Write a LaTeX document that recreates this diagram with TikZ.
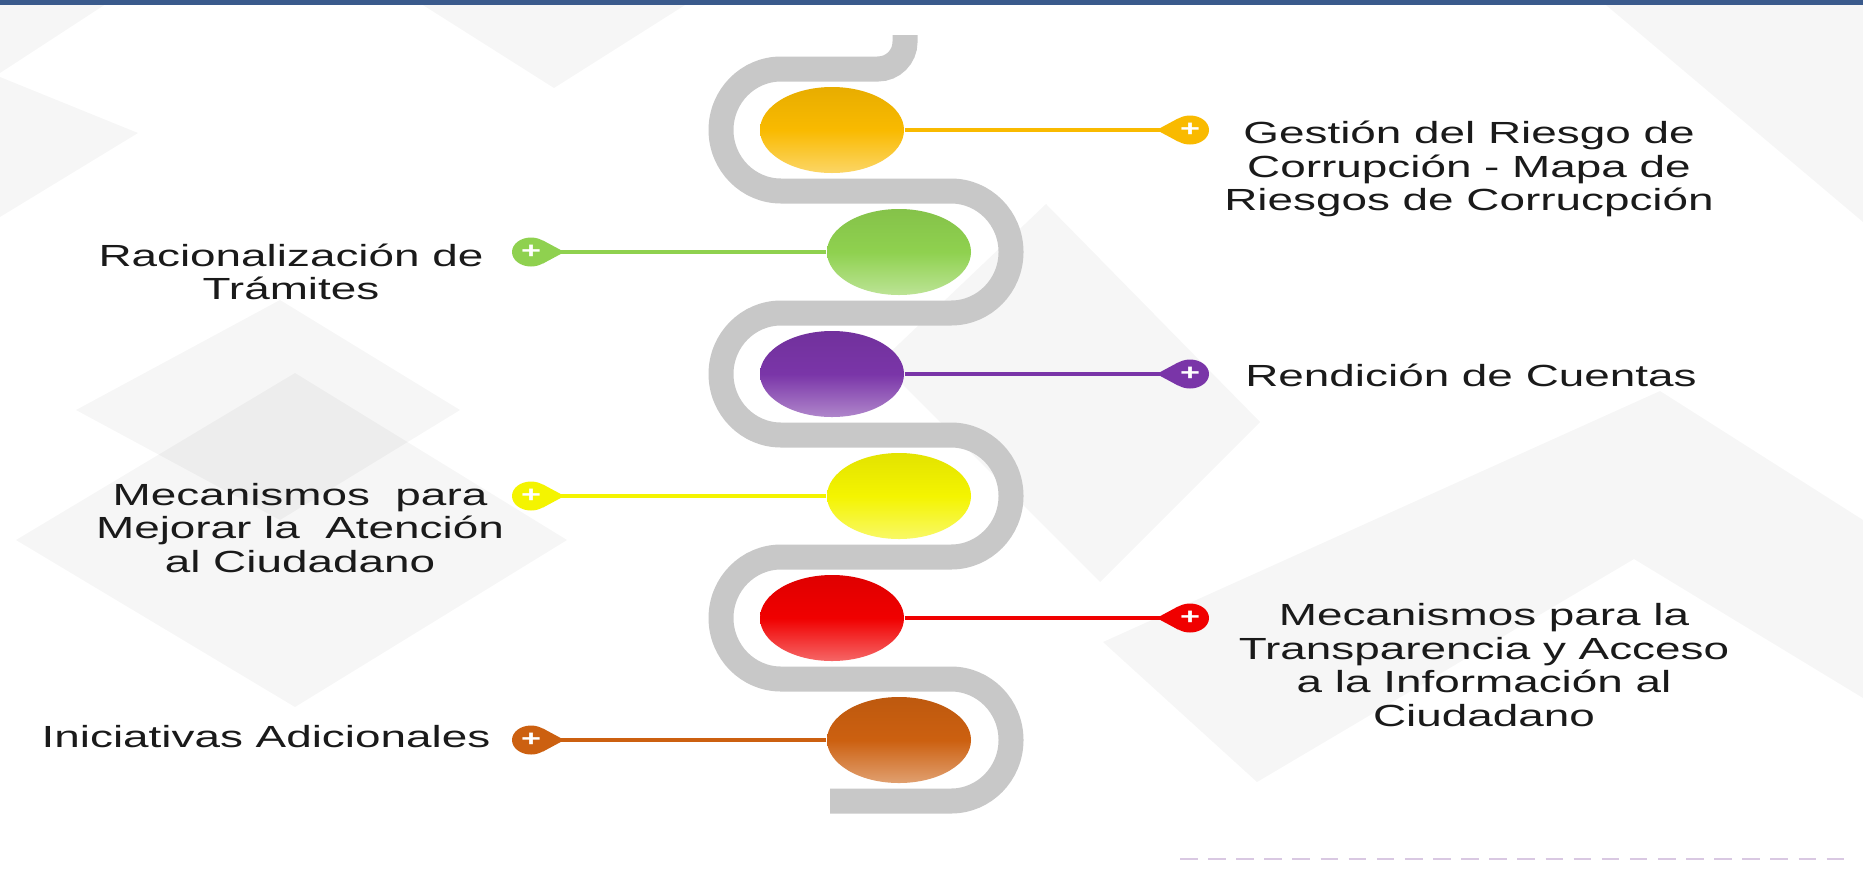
\documentclass[tikz,border=0pt]{standalone}
\usepackage{fontspec}
\setmainfont{Liberation Sans}[FakeStretch=1.5]
\usetikzlibrary{shapes.geometric,arrows.meta}

\definecolor{cgold}{HTML}{F9BA00}
\definecolor{cgreen}{HTML}{8FD14F}
\definecolor{cpurple}{HTML}{7A35A8}
\definecolor{cyellow}{HTML}{F4F400}
\definecolor{cred}{HTML}{F00000}
\definecolor{cbrown}{HTML}{CC6010}
\definecolor{bandgray}{RGB}{200,200,200}
\definecolor{topblue}{HTML}{3A5A8C}
\definecolor{txtgray}{HTML}{1A1A1A}
\definecolor{noise}{HTML}{D9C8E2}

\tikzset{
    bgshape/.style={fill=black, fill opacity=0.035},
    band/.style={draw=bandgray, line width=0.25cm},
    sphere/.style={ellipse, minimum width=1.44cm, minimum height=0.86cm, inner sep=0pt,
        top color=#1!93!black, bottom color=#1!60!white, middle color=#1},
    tipdot/.style={ellipse, minimum width=0.38cm, minimum height=0.29cm, inner sep=0pt,
        fill=#1, text=white, font=\bfseries\fontsize{6.5}{6.5}\selectfont},
    link/.style={draw=#1, line width=1.3pt, -{Triangle[reversed, width=0.22cm, length=0.22cm]},
        shorten >=-0.08cm},
    lbl/.style={align=center, text=txtgray, inner sep=0pt, font=\fontsize{8.7}{9.6}\selectfont}
}

\begin{document}
\begin{tikzpicture}
    \useasboundingbox (0,0) rectangle (18.63,8.82);
    \fill[white] (0,0) rectangle (18.63,8.82);
    \fill[bgshape] (0,8.82) -- (1.12,8.82) -- (0,8.09) -- cycle;
    \fill[bgshape] (0,8.05) -- (1.38,7.49) -- (0,6.65) -- cycle;
    \fill[bgshape] (4.15,8.82) -- (6.93,8.82) -- (5.54,7.94) -- cycle;
    \fill[bgshape] (2.80,5.82) -- (4.60,4.72) -- (2.80,3.62) -- (0.76,4.72) -- cycle;
    \fill[bgshape] (2.95,5.09) -- (5.67,3.42) -- (2.95,1.75) -- (0.16,3.42) -- cycle;
    \fill[bgshape] (10.46,6.78) -- (12.60,4.60) -- (11.00,3.00) -- (8.80,5.20) -- cycle;
    \fill[bgshape] (11.03,2.40) -- (16.60,4.91) -- (18.63,3.62) -- (18.63,1.84) -- (16.34,3.23) -- (12.57,1.00) -- cycle;
    \fill[bgshape] (16.00,8.82) -- (18.63,8.82) -- (18.63,6.60) -- cycle;
    \fill[topblue] (0,8.77) rectangle (18.63,8.82);
    \draw[noise, line width=0.8pt, dash pattern=on 5pt off 3pt] (11.80,0.23) -- (18.45,0.23);
    \draw[band] (9.05,8.47) -- (9.05,8.40) arc[start angle=0, end angle=-90, radius=0.27]
        -- (7.81,8.13) arc[start angle=90, end angle=270, x radius=0.6, y radius=0.61]
        -- (9.51,6.91) arc[start angle=90, end angle=-90, x radius=0.6, y radius=0.61]
        -- (7.81,5.69) arc[start angle=90, end angle=270, x radius=0.6, y radius=0.61]
        -- (9.51,4.47) arc[start angle=90, end angle=-90, x radius=0.6, y radius=0.61]
        -- (7.81,3.25) arc[start angle=90, end angle=270, x radius=0.6, y radius=0.61]
        -- (9.51,2.03) arc[start angle=90, end angle=-90, x radius=0.6, y radius=0.61]
        -- (8.30,0.81);
    \node[sphere=cgold] (b1) at (8.32,7.52) {};
    \node[sphere=cgreen] (b2) at (8.99,6.30) {};
    \node[sphere=cpurple] (b3) at (8.32,5.08) {};
    \node[sphere=cyellow] (b4) at (8.99,3.86) {};
    \node[sphere=cred] (b5) at (8.32,2.64) {};
    \node[sphere=cbrown] (b6) at (8.99,1.42) {};
    \node[tipdot=cgold] (p1) at (11.90,7.52) {+};
    \node[tipdot=cgreen] (p2) at (5.31,6.30) {+};
    \node[tipdot=cpurple] (p3) at (11.90,5.08) {+};
    \node[tipdot=cyellow] (p4) at (5.31,3.86) {+};
    \node[tipdot=cred] (p5) at (11.90,2.64) {+};
    \node[tipdot=cbrown] (p6) at (5.31,1.42) {+};
    \draw[link=cgold] (b1) -- (p1);
    \draw[link=cgreen] (b2) -- (p2);
    \draw[link=cpurple] (b3) -- (p3);
    \draw[link=cyellow] (b4) -- (p4);
    \draw[link=cred] (b5) -- (p5);
    \draw[link=cbrown] (b6) -- (p6);
    \node[lbl] (t1) at (14.69,7.13) {Gestión del Riesgo de\\Corrupción - Mapa de\\Riesgos de Corrucpción};
    \node[lbl] (t2) at (2.91,6.10) {Racionalización de\\Trámites};
    \node[lbl] (t3) at (14.71,5.07) {Rendición de Cuentas};
    \node[lbl] (t4) at (3.00,3.54) {Mecanismos~ para\\Mejorar la~ Atención\\al Ciudadano};
    \node[lbl] (t5) at (14.84,2.17) {Mecanismos para la\\Transparencia y Acceso\\a la Información al\\Ciudadano};
    \node[lbl] (t6) at (2.66,1.45) {Iniciativas Adicionales};
\end{tikzpicture}
\end{document}
